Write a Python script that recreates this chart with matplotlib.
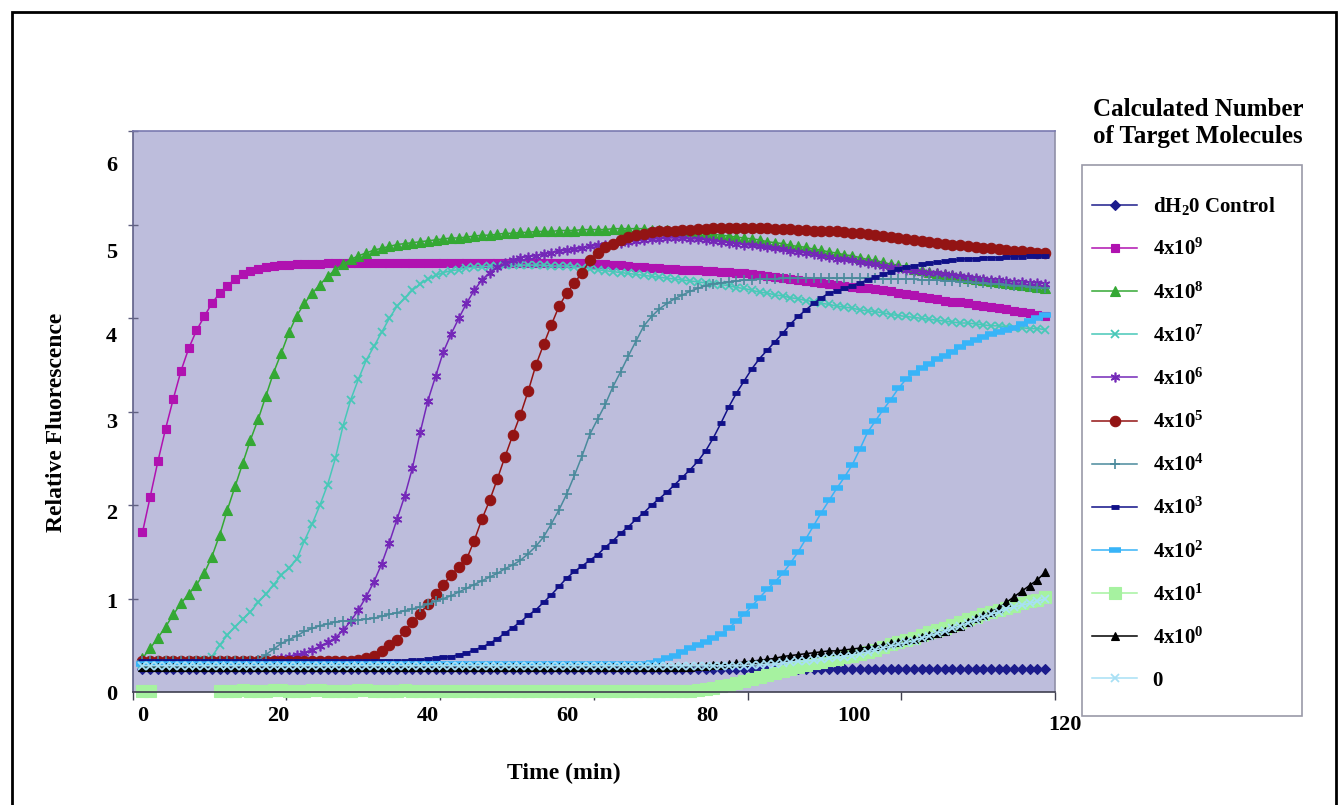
import numpy as np
import matplotlib
matplotlib.use("Agg")
import matplotlib.pyplot as plt
from matplotlib.patches import Rectangle

# ---------------- data ----------------
time_min = np.linspace(1.3, 118.7, 118)
nan = np.nan

series_labels = ["dH$_2$0 Control", "4x10$^9$", "4x10$^8$", "4x10$^7$", "4x10$^6$",
                 "4x10$^5$", "4x10$^4$", "4x10$^3$", "4x10$^2$", "4x10$^1$",
                 "4x10$^0$", "0"]

dh2o_control = [
    0.25, 0.25, 0.25, 0.25, 0.25, 0.25, 0.25, 0.25, 0.25, 0.25,
    0.25, 0.25, 0.25, 0.25, 0.25, 0.25, 0.25, 0.25, 0.25, 0.25,
    0.25, 0.25, 0.25, 0.25, 0.25, 0.25, 0.25, 0.25, 0.25, 0.25,
    0.25, 0.25, 0.25, 0.25, 0.25, 0.25, 0.25, 0.25, 0.25, 0.25,
    0.25, 0.25, 0.25, 0.25, 0.25, 0.25, 0.25, 0.25, 0.25, 0.25,
    0.25, 0.25, 0.25, 0.25, 0.25, 0.25, 0.25, 0.25, 0.25, 0.25,
    0.25, 0.25, 0.25, 0.25, 0.25, 0.25, 0.25, 0.25, 0.25, 0.25,
    0.25, 0.25, 0.25, 0.25, 0.25, 0.25, 0.25, 0.25, 0.25, 0.25,
    0.25, 0.25, 0.25, 0.25, 0.25, 0.25, 0.25, 0.25, 0.25, 0.25,
    0.25, 0.25, 0.25, 0.25, 0.25, 0.25, 0.25, 0.25, 0.25, 0.25,
    0.25, 0.25, 0.25, 0.25, 0.25, 0.25, 0.25, 0.25, 0.25, 0.25,
    0.25, 0.25, 0.25, 0.25, 0.25, 0.25, 0.25, 0.25]

mol_4e9 = [
    1.71, 2.09, 2.47, 2.82, 3.14, 3.44, 3.68, 3.87, 4.02, 4.16,
    4.27, 4.35, 4.42, 4.47, 4.51, 4.53, 4.55, 4.56, 4.57, 4.57,
    4.58, 4.58, 4.58, 4.58, 4.59, 4.59, 4.59, 4.59, 4.59, 4.59,
    4.59, 4.59, 4.59, 4.59, 4.59, 4.59, 4.59, 4.59, 4.59, 4.59,
    4.59, 4.59, 4.59, 4.59, 4.59, 4.59, 4.59, 4.59, 4.59, 4.59,
    4.59, 4.59, 4.59, 4.59, 4.59, 4.59, 4.59, 4.59, 4.58, 4.58,
    4.58, 4.57, 4.57, 4.56, 4.55, 4.55, 4.54, 4.54, 4.53, 4.53,
    4.52, 4.52, 4.52, 4.51, 4.51, 4.50, 4.50, 4.49, 4.48, 4.47,
    4.46, 4.45, 4.44, 4.43, 4.42, 4.41, 4.40, 4.39, 4.38, 4.37,
    4.36, 4.35, 4.34, 4.33, 4.32, 4.31, 4.30, 4.29, 4.27, 4.26,
    4.25, 4.23, 4.22, 4.21, 4.19, 4.18, 4.17, 4.16, 4.14, 4.13,
    4.12, 4.11, 4.10, 4.08, 4.07, 4.06, 4.04, 4.03]

mol_4e8 = [
    0.36, 0.47, 0.58, 0.70, 0.83, 0.95, 1.05, 1.15, 1.27, 1.45,
    1.68, 1.95, 2.20, 2.45, 2.70, 2.92, 3.17, 3.42, 3.63, 3.85,
    4.03, 4.16, 4.27, 4.36, 4.45, 4.52, 4.58, 4.63, 4.67, 4.70,
    4.73, 4.75, 4.77, 4.79, 4.80, 4.81, 4.82, 4.83, 4.84, 4.85,
    4.86, 4.86, 4.87, 4.88, 4.89, 4.89, 4.90, 4.91, 4.91, 4.92,
    4.92, 4.93, 4.93, 4.93, 4.94, 4.94, 4.94, 4.95, 4.95, 4.95,
    4.95, 4.96, 4.96, 4.96, 4.96, 4.96, 4.95, 4.95, 4.95, 4.94,
    4.94, 4.93, 4.92, 4.91, 4.90, 4.89, 4.88, 4.87, 4.86, 4.85,
    4.84, 4.82, 4.81, 4.80, 4.78, 4.77, 4.76, 4.74, 4.73, 4.71,
    4.70, 4.68, 4.67, 4.65, 4.63, 4.62, 4.60, 4.58, 4.57, 4.55,
    4.53, 4.52, 4.50, 4.49, 4.47, 4.46, 4.45, 4.43, 4.42, 4.41,
    4.40, 4.39, 4.38, 4.37, 4.36, 4.35, 4.34, 4.33]

mol_4e7 = [
    0.30, 0.30, 0.30, 0.30, 0.30, 0.31, 0.31, 0.32, 0.34, 0.38,
    0.50, 0.61, 0.70, 0.78, 0.86, 0.96, 1.05, 1.15, 1.25, 1.33,
    1.42, 1.62, 1.80, 2.00, 2.22, 2.50, 2.85, 3.13, 3.35, 3.55,
    3.70, 3.85, 4.00, 4.13, 4.22, 4.30, 4.37, 4.42, 4.46, 4.49,
    4.51, 4.52, 4.54, 4.55, 4.55, 4.56, 4.56, 4.57, 4.57, 4.57,
    4.57, 4.57, 4.57, 4.56, 4.56, 4.56, 4.55, 4.54, 4.53, 4.52,
    4.51, 4.50, 4.49, 4.48, 4.47, 4.46, 4.45, 4.44, 4.43, 4.42,
    4.41, 4.40, 4.39, 4.38, 4.37, 4.36, 4.35, 4.33, 4.32, 4.30,
    4.28, 4.27, 4.25, 4.24, 4.22, 4.21, 4.19, 4.18, 4.16, 4.15,
    4.13, 4.12, 4.11, 4.09, 4.08, 4.07, 4.06, 4.04, 4.03, 4.02,
    4.01, 4.00, 3.99, 3.98, 3.97, 3.96, 3.95, 3.95, 3.94, 3.93,
    3.92, 3.92, 3.91, 3.90, 3.90, 3.89, 3.89, 3.88]

mol_4e6 = [
    0.33, 0.33, 0.33, 0.33, 0.33, 0.33, 0.33, 0.33, 0.33, 0.33,
    0.33, 0.33, 0.33, 0.33, 0.33, 0.33, 0.33, 0.34, 0.36, 0.38,
    0.40, 0.42, 0.45, 0.49, 0.53, 0.58, 0.66, 0.76, 0.88, 1.02,
    1.18, 1.37, 1.60, 1.85, 2.10, 2.40, 2.78, 3.12, 3.38, 3.64,
    3.83, 4.00, 4.16, 4.30, 4.41, 4.49, 4.55, 4.59, 4.62, 4.65,
    4.66, 4.67, 4.69, 4.70, 4.72, 4.73, 4.74, 4.75, 4.77, 4.78,
    4.79, 4.80, 4.81, 4.82, 4.83, 4.84, 4.85, 4.85, 4.86, 4.86,
    4.86, 4.85, 4.85, 4.84, 4.83, 4.82, 4.81, 4.80, 4.79, 4.78,
    4.77, 4.76, 4.75, 4.74, 4.72, 4.71, 4.70, 4.69, 4.67, 4.66,
    4.64, 4.63, 4.62, 4.60, 4.59, 4.58, 4.56, 4.55, 4.54, 4.52,
    4.51, 4.50, 4.49, 4.48, 4.47, 4.46, 4.45, 4.44, 4.43, 4.42,
    4.41, 4.41, 4.40, 4.39, 4.39, 4.38, 4.38, 4.37]

mol_4e5 = [
    0.33, 0.33, 0.33, 0.33, 0.33, 0.33, 0.33, 0.33, 0.33, 0.33,
    0.33, 0.33, 0.33, 0.33, 0.33, 0.33, 0.33, 0.33, 0.33, 0.33,
    0.33, 0.33, 0.33, 0.33, 0.33, 0.33, 0.33, 0.33, 0.34, 0.36,
    0.39, 0.44, 0.50, 0.56, 0.65, 0.75, 0.84, 0.94, 1.05, 1.15,
    1.25, 1.34, 1.42, 1.62, 1.85, 2.05, 2.28, 2.52, 2.75, 2.97,
    3.22, 3.50, 3.72, 3.93, 4.13, 4.27, 4.38, 4.49, 4.62, 4.70,
    4.76, 4.80, 4.84, 4.87, 4.89, 4.90, 4.92, 4.93, 4.94, 4.94,
    4.95, 4.95, 4.96, 4.96, 4.97, 4.97, 4.97, 4.97, 4.97, 4.97,
    4.97, 4.97, 4.96, 4.96, 4.96, 4.95, 4.95, 4.94, 4.94, 4.93,
    4.93, 4.92, 4.91, 4.91, 4.90, 4.89, 4.88, 4.87, 4.86, 4.85,
    4.84, 4.83, 4.82, 4.81, 4.80, 4.79, 4.78, 4.77, 4.76, 4.75,
    4.75, 4.74, 4.73, 4.72, 4.72, 4.71, 4.70, 4.70]

mol_4e4 = [
    0.33, 0.33, 0.33, 0.33, 0.33, 0.33, 0.33, 0.33, 0.33, 0.33,
    0.33, 0.33, 0.33, 0.33, 0.33, 0.34, 0.40, 0.46, 0.52, 0.56,
    0.60, 0.65, 0.68, 0.71, 0.73, 0.75, 0.76, 0.76, 0.77, 0.78,
    0.79, 0.81, 0.83, 0.85, 0.87, 0.89, 0.91, 0.94, 0.97, 1.00,
    1.03, 1.07, 1.11, 1.15, 1.19, 1.23, 1.27, 1.32, 1.36, 1.41,
    1.48, 1.56, 1.66, 1.80, 1.95, 2.12, 2.32, 2.53, 2.76, 2.92,
    3.08, 3.27, 3.43, 3.60, 3.76, 3.92, 4.02, 4.10, 4.16, 4.21,
    4.25, 4.29, 4.32, 4.35, 4.37, 4.38, 4.39, 4.40, 4.41, 4.41,
    4.42, 4.42, 4.42, 4.43, 4.43, 4.43, 4.43, 4.43, 4.43, 4.43,
    4.43, 4.43, 4.43, 4.43, 4.43, 4.43, 4.42, 4.42, 4.42, 4.42,
    4.42, 4.41, 4.41, 4.41, 4.40, 4.40, 4.39, 4.39, 4.38, 4.38,
    4.37, 4.37, 4.36, 4.35, 4.35, 4.34, 4.33, 4.32]

mol_4e3 = [
    0.33, 0.33, 0.33, 0.33, 0.33, 0.33, 0.33, 0.33, 0.33, 0.33,
    0.33, 0.33, 0.33, 0.33, 0.33, 0.33, 0.33, 0.33, 0.33, 0.33,
    0.33, 0.33, 0.33, 0.33, 0.33, 0.33, 0.33, 0.33, 0.33, 0.33,
    0.33, 0.33, 0.33, 0.33, 0.33, 0.34, 0.34, 0.35, 0.36, 0.37,
    0.38, 0.40, 0.42, 0.45, 0.48, 0.52, 0.57, 0.63, 0.69, 0.75,
    0.82, 0.88, 0.96, 1.04, 1.13, 1.22, 1.29, 1.35, 1.41, 1.47,
    1.55, 1.62, 1.70, 1.77, 1.85, 1.92, 2.00, 2.07, 2.14, 2.22,
    2.30, 2.38, 2.47, 2.58, 2.72, 2.88, 3.05, 3.20, 3.33, 3.46,
    3.57, 3.66, 3.75, 3.84, 3.94, 4.02, 4.09, 4.16, 4.22, 4.27,
    4.29, 4.32, 4.35, 4.38, 4.41, 4.44, 4.47, 4.50, 4.53, 4.55,
    4.56, 4.58, 4.59, 4.60, 4.61, 4.62, 4.63, 4.64, 4.64, 4.65,
    4.65, 4.65, 4.66, 4.66, 4.66, 4.67, 4.67, 4.67]

mol_4e2 = [
    0.30, 0.30, 0.30, 0.30, 0.30, 0.30, 0.30, 0.30, 0.30, 0.30,
    0.30, 0.30, 0.30, 0.30, 0.30, 0.30, 0.30, 0.30, 0.30, 0.30,
    0.30, 0.30, 0.30, 0.30, 0.30, 0.30, 0.30, 0.30, 0.30, 0.30,
    0.30, 0.30, 0.30, 0.30, 0.30, 0.30, 0.30, 0.30, 0.30, 0.30,
    0.30, 0.30, 0.30, 0.30, 0.30, 0.30, 0.30, 0.30, 0.30, 0.30,
    0.30, 0.30, 0.30, 0.30, 0.30, 0.30, 0.30, 0.30, 0.30, 0.30,
    0.30, 0.30, 0.30, 0.30, 0.30, 0.30, 0.31, 0.33, 0.36, 0.39,
    0.43, 0.47, 0.50, 0.54, 0.58, 0.62, 0.68, 0.76, 0.83, 0.92,
    1.01, 1.10, 1.18, 1.27, 1.38, 1.50, 1.64, 1.78, 1.92, 2.05,
    2.18, 2.30, 2.43, 2.60, 2.78, 2.90, 3.02, 3.13, 3.25, 3.35,
    3.42, 3.47, 3.51, 3.56, 3.60, 3.64, 3.69, 3.74, 3.77, 3.80,
    3.83, 3.85, 3.87, 3.90, 3.94, 3.97, 4.00, 4.04]

mol_4e1 = [
    0.01, 0.01, nan, nan, nan, nan, nan, nan, nan, nan,
    0.01, 0.01, 0.01, 0.02, 0.01, 0.01, 0.01, 0.02, 0.02, 0.01,
    0.01, 0.01, 0.02, 0.02, 0.01, 0.01, 0.01, 0.01, 0.02, 0.02,
    0.01, 0.01, 0.01, 0.01, 0.02, 0.01, 0.01, 0.01, 0.01, 0.01,
    0.01, 0.01, 0.01, 0.01, 0.01, 0.01, 0.01, 0.01, 0.01, 0.01,
    0.01, 0.01, 0.01, 0.01, 0.01, 0.01, 0.01, 0.01, 0.01, 0.01,
    0.01, 0.01, 0.01, 0.01, 0.01, 0.01, 0.01, 0.01, 0.01, 0.01,
    0.01, 0.01, 0.02, 0.03, 0.04, 0.06, 0.08, 0.10, 0.12, 0.14,
    0.16, 0.18, 0.20, 0.23, 0.25, 0.27, 0.29, 0.31, 0.32, 0.34,
    0.35, 0.37, 0.39, 0.41, 0.43, 0.45, 0.48, 0.51, 0.53, 0.56,
    0.58, 0.61, 0.64, 0.66, 0.69, 0.72, 0.75, 0.78, 0.80, 0.83,
    0.86, 0.88, 0.90, 0.92, 0.95, 0.97, 0.99, 1.02]

mol_4e0 = [
    0.27, 0.27, 0.27, 0.27, 0.27, 0.27, 0.27, 0.27, 0.27, 0.27,
    0.27, 0.27, 0.27, 0.27, 0.27, 0.27, 0.27, 0.27, 0.27, 0.27,
    0.27, 0.27, 0.27, 0.27, 0.27, 0.27, 0.27, 0.27, 0.27, 0.27,
    0.27, 0.27, 0.27, 0.27, 0.27, 0.27, 0.27, 0.27, 0.27, 0.27,
    0.27, 0.27, 0.27, 0.27, 0.27, 0.27, 0.27, 0.27, 0.27, 0.27,
    0.27, 0.27, 0.27, 0.27, 0.27, 0.27, 0.27, 0.27, 0.27, 0.27,
    0.27, 0.27, 0.27, 0.27, 0.27, 0.27, 0.27, 0.27, 0.27, 0.27,
    0.27, 0.27, 0.28, 0.28, 0.29, 0.29, 0.30, 0.31, 0.32, 0.33,
    0.34, 0.35, 0.36, 0.38, 0.39, 0.40, 0.41, 0.42, 0.43, 0.44,
    0.44, 0.45, 0.46, 0.47, 0.48, 0.49, 0.50, 0.52, 0.54, 0.56,
    0.57, 0.59, 0.61, 0.63, 0.65, 0.68, 0.71, 0.75, 0.79, 0.82,
    0.86, 0.90, 0.96, 1.02, 1.08, 1.14, 1.20, 1.28]

mol_zero = [
    0.28, 0.28, 0.28, 0.28, 0.28, 0.28, 0.28, 0.28, 0.28, 0.28,
    0.28, 0.28, 0.28, 0.28, 0.28, 0.28, 0.28, 0.28, 0.28, 0.28,
    0.28, 0.28, 0.28, 0.28, 0.28, 0.28, 0.28, 0.28, 0.28, 0.28,
    0.28, 0.28, 0.28, 0.28, 0.28, 0.28, 0.28, 0.28, 0.28, 0.28,
    0.28, 0.28, 0.28, 0.28, 0.28, 0.28, 0.28, 0.28, 0.28, 0.28,
    0.28, 0.28, 0.28, 0.28, 0.28, 0.28, 0.28, 0.28, 0.28, 0.28,
    0.28, 0.28, 0.28, 0.28, 0.28, 0.28, 0.28, 0.28, 0.28, 0.28,
    0.28, 0.28, 0.28, 0.28, 0.28, 0.28, 0.28, 0.28, 0.28, 0.29,
    0.29, 0.30, 0.30, 0.31, 0.32, 0.33, 0.33, 0.34, 0.35, 0.36,
    0.37, 0.38, 0.39, 0.41, 0.43, 0.45, 0.47, 0.49, 0.51, 0.53,
    0.55, 0.58, 0.60, 0.63, 0.65, 0.68, 0.71, 0.74, 0.77, 0.80,
    0.83, 0.86, 0.89, 0.91, 0.93, 0.95, 0.97, 1.00]

x_tick_labels = ["0", "20", "40", "60", "80", "100"]
y_tick_labels = ["0", "1", "2", "3", "4", "5", "6"]

# ---------------- styling ----------------
series_values = [dh2o_control, mol_4e9, mol_4e8, mol_4e7, mol_4e6, mol_4e5,
                 mol_4e4, mol_4e3, mol_4e2, mol_4e1, mol_4e0, mol_zero]
styles = [
    dict(color="#1c1c8c", marker="D", ms=5, mew=0.8),
    dict(color="#b012b0", marker="s", ms=6, mew=0.8),
    dict(color="#34a834", marker="^", ms=6.5, mew=0.8),
    dict(color="#48c8b8", marker="x", ms=6, mew=1.3),
    dict(color="#7428b8", marker=(6, 2, 0), ms=7, mew=1.2),
    dict(color="#931414", marker="o", ms=7.5, mew=0.8),
    dict(color="#4a8a9c", marker="+", ms=7, mew=1.2),
    dict(color="#101088", marker="_", ms=6, mew=3.5),
    dict(color="#38b4f8", marker="_", ms=8, mew=4),
    dict(color="#a6f2a0", marker="s", ms=8, mew=0.8),
    dict(color="#000000", marker="^", ms=6, mew=0.8),
    dict(color="#a8e0f5", marker="x", ms=6, mew=1.3),
]

serif = "Liberation Serif"
plt.rcParams["font.family"] = [serif, "DejaVu Serif"]
plt.rcParams["font.weight"] = "bold"
plt.rcParams["mathtext.fontset"] = "custom"
plt.rcParams["mathtext.rm"] = "Liberation Serif:bold"
plt.rcParams["mathtext.bf"] = "Liberation Serif:bold"
plt.rcParams["mathtext.it"] = "Liberation Serif:bold:italic"
plt.rcParams["mathtext.default"] = "rm"

W, H = 1343, 805
fig = plt.figure(figsize=(W / 100, H / 100), dpi=100)
fig.patch.set_facecolor("white")

ax_l, ax_r, ax_t, ax_b = 132.5, 1055, 131.5, 692
ax = fig.add_axes([ax_l / W, 1 - ax_b / H, (ax_r - ax_l) / W, (ax_b - ax_t) / H])
ax.set_facecolor("#bdbddc")

handles = []
for vals, st, lab in zip(series_values, styles, series_labels):
    ln, = ax.plot(time_min, vals, color=st["color"], lw=1.1, marker=st["marker"],
                  ms=st["ms"], mew=st["mew"], mec=st["color"], mfc=st["color"],
                  clip_on=False, label=lab)
    handles.append(ln)

ax.set_xlim(0, 120)
ax.set_ylim(0, 6)

# tick marks (true scale)
ax.set_xticks(np.arange(0, 121, 20), minor=True)
ax.set_yticks(np.arange(0, 7, 1), minor=True)
ax.tick_params(axis="x", which="minor", direction="out", length=6, width=1, color="#404050")
ax.tick_params(axis="y", which="minor", direction="inout", length=7, width=1, color="#606080")

# tick labels as placed in the original figure
x_label_pos = [1.3, 19.0, 38.4, 56.6, 74.8, 93.8]
y_label_pos = [0.0, 0.98, 1.93, 2.91, 3.83, 4.73, 5.66]
ax.set_xticks(x_label_pos)
ax.set_xticklabels(x_tick_labels)
ax.set_yticks(y_label_pos)
ax.set_yticklabels(y_tick_labels)
ax.tick_params(axis="both", which="major", length=0, labelsize=16)
ax.tick_params(axis="x", which="major", pad=10)
ax.tick_params(axis="y", which="major", pad=11)
for lab in ax.get_xticklabels() + ax.get_yticklabels():
    lab.set_fontweight("bold")
ax.text(121.3, -0.059, "120", transform=ax.get_xaxis_transform(), ha="center",
        va="center", fontsize=16, fontweight="bold", clip_on=False)

for side, col in [("left", "#606088"), ("top", "#7a7ab0"), ("right", "#9090a8"),
                  ("bottom", "#404050")]:
    ax.spines[side].set_color(col)
    ax.spines[side].set_linewidth(1.2)

ax.set_ylabel("Relative Fluorescence", fontsize=17, fontweight="bold")
ax.yaxis.set_label_coords((67 - ax_l) / (ax_r - ax_l), 0.481)
ax.set_xlabel("Time (min)", fontsize=17, fontweight="bold")
ax.xaxis.set_label_coords((564 - ax_l) / (ax_r - ax_l), (ax_b - 763) / (ax_b - ax_t))

# legend box and legend
fig.patches.append(Rectangle((1082 / W, 1 - 716 / H), (1302 - 1082) / W, (716 - 165) / H,
                             transform=fig.transFigure, facecolor="white",
                             edgecolor="#9a9aa8", lw=1.2, zorder=0))
leg = fig.legend(handles, series_labels, loc="upper left",
                 bbox_to_anchor=(1092 / W, 1 - 195 / H), frameon=False,
                 borderpad=0, borderaxespad=0, handlelength=2.16,
                 handletextpad=0.75, labelspacing=1.055, numpoints=1,
                 prop=dict(family=serif, weight="bold", size=15))
fig.text(1198 / W, 1 - 110 / H, "Calculated Number", ha="center", va="center",
         fontsize=18, fontweight="bold")
fig.text(1198 / W, 1 - 137 / H, "of Target Molecules", ha="center", va="center",
         fontsize=18, fontweight="bold")

# outer frame of the scanned page
fig.patches.append(Rectangle((12 / W, -0.02), (1336 - 12) / W, 1 - 12 / H + 0.02,
                             transform=fig.transFigure, fill=False,
                             edgecolor="black", lw=2))

fig.savefig("out.png", dpi=100)
